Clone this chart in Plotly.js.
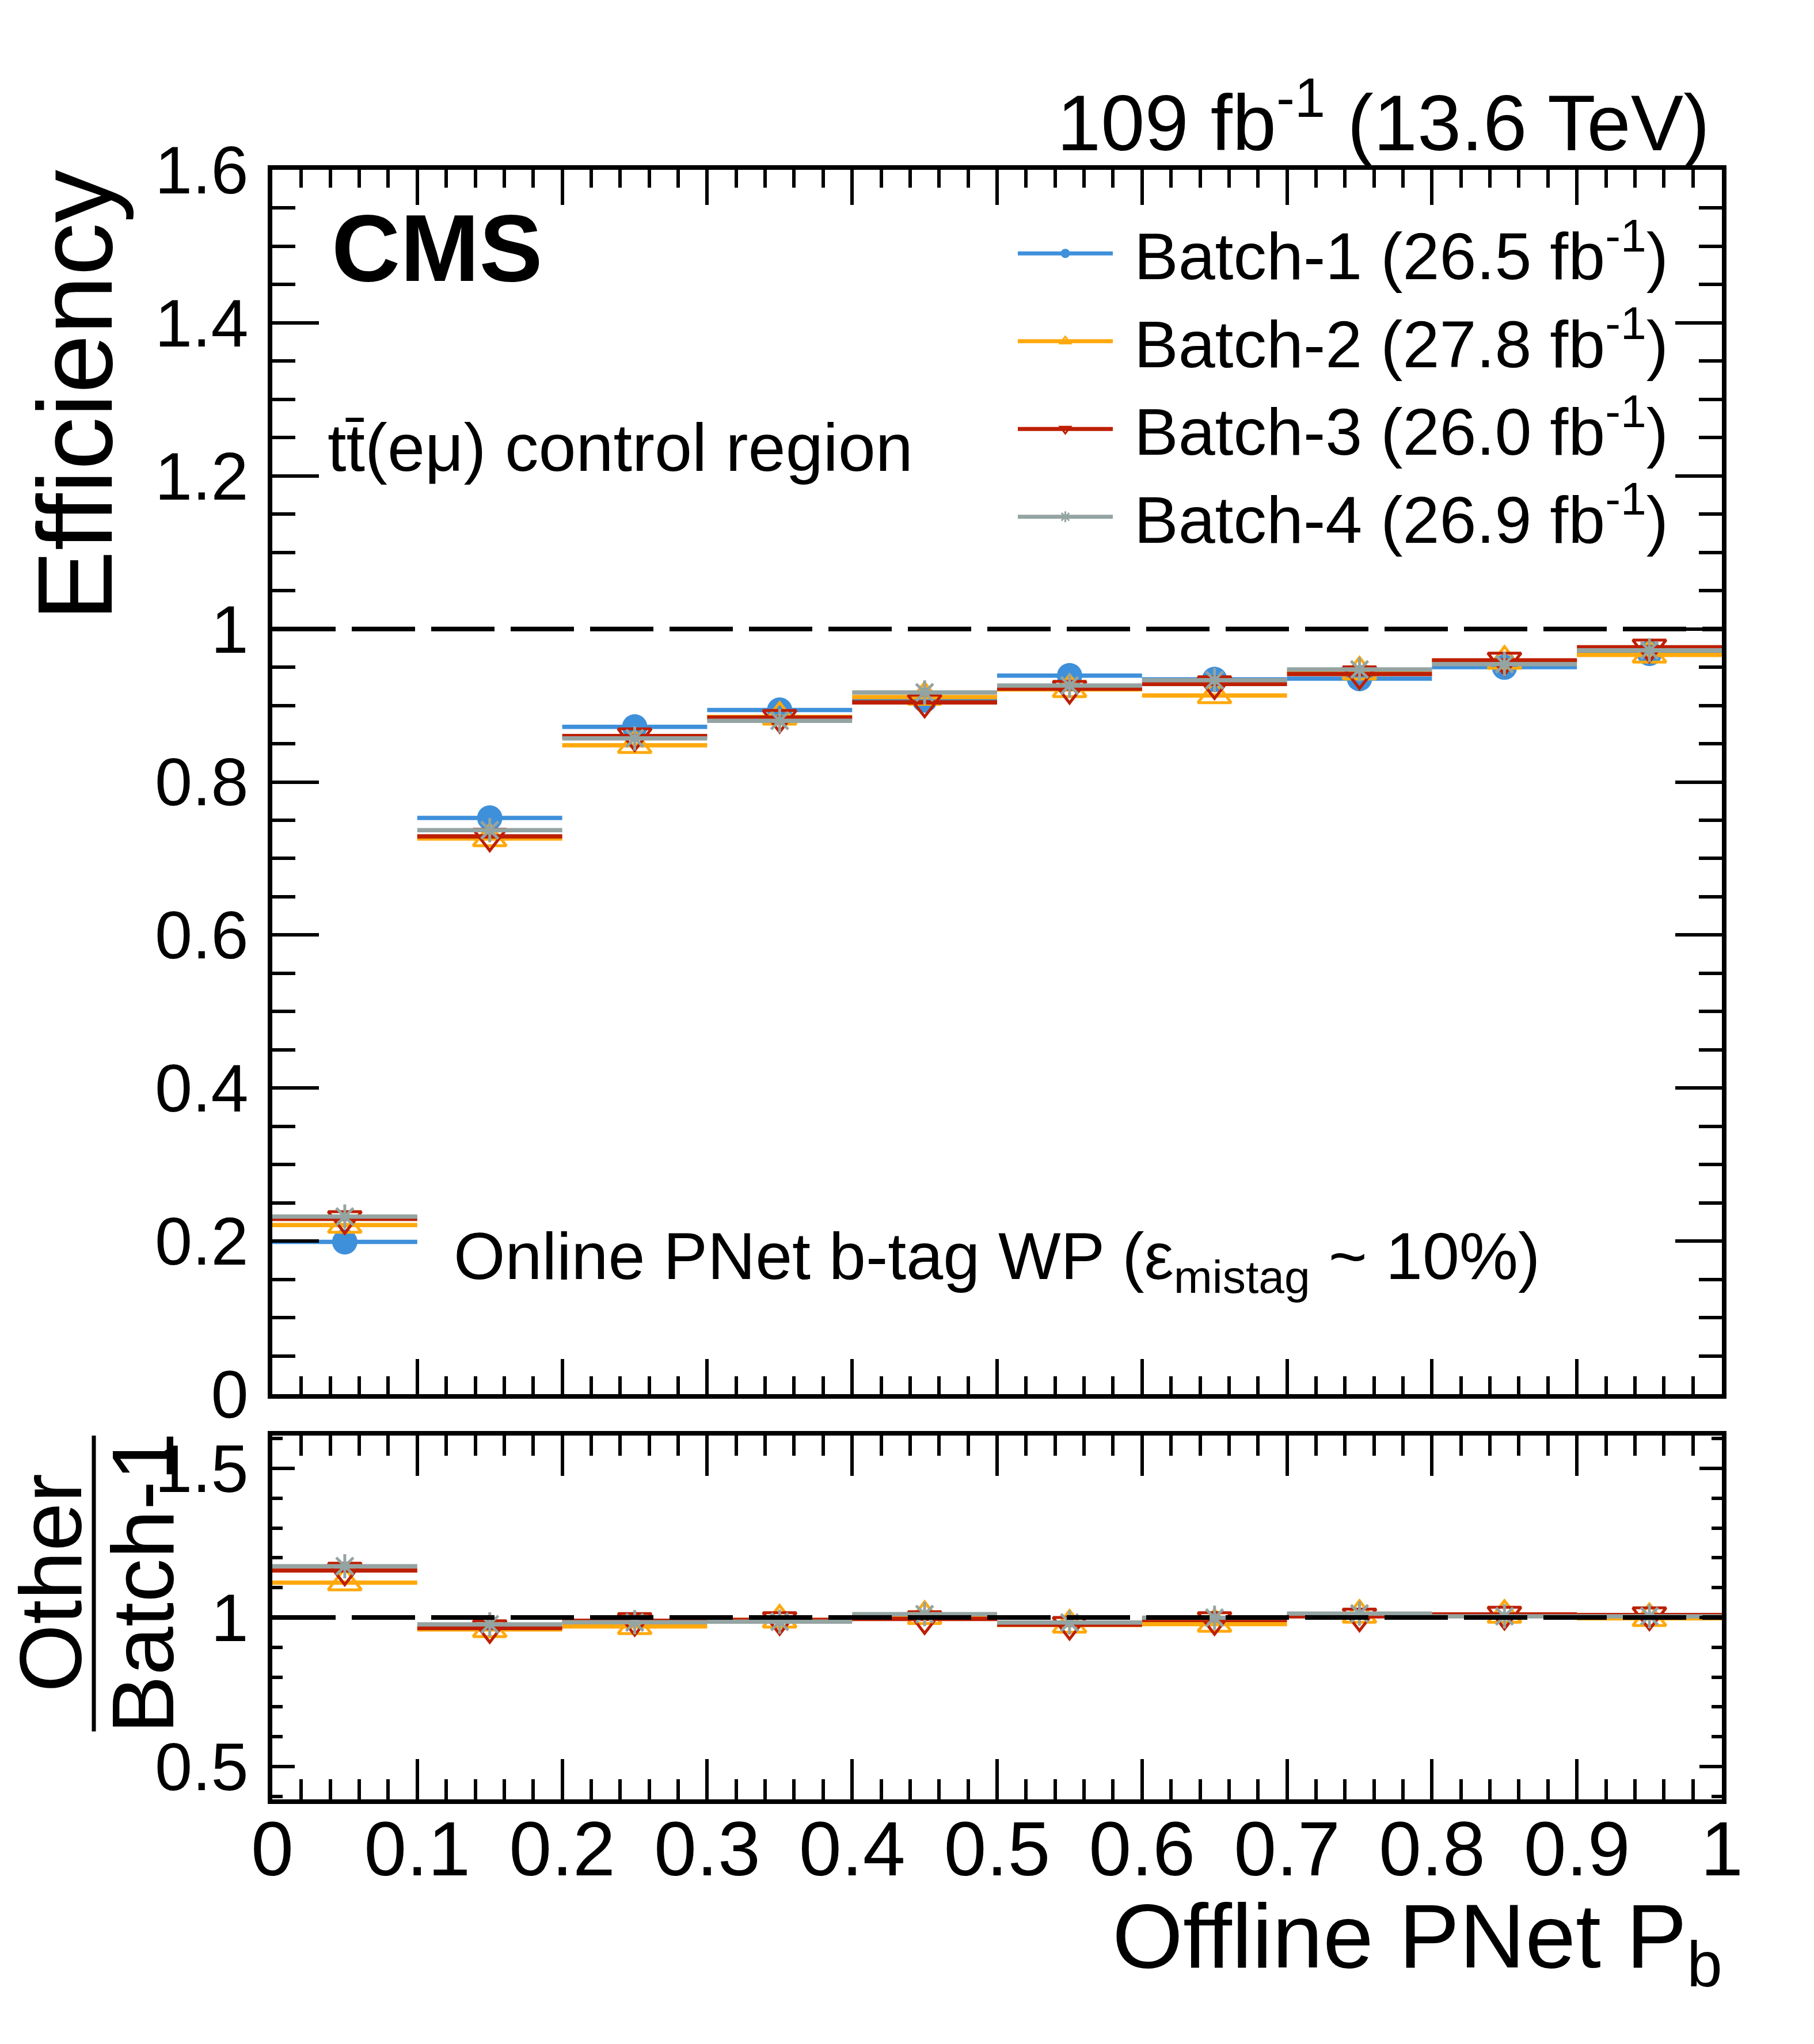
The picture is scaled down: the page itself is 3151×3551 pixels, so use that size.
<!DOCTYPE html>
<html>
<head>
<meta charset="utf-8">
<script src="https://cdn.plot.ly/plotly-3.0.1.min.js"></script>
<style>
  html, body { margin: 0; padding: 0; background: #ffffff; }
</style>
</head>
<body>
<div id="graph"></div>
<script>
// Constants
const GRAPH_ELEM_ID = "graph";
const FONT = "Liberation Sans, Arial, Helvetica, sans-serif";
const TICK_FONT = "Liberation Sans Narrow, Arial Narrow, Liberation Sans, sans-serif";

// Data: bins of offline PNet P_b (centre, half width)
const binCenters = [0.05, 0.15, 0.25, 0.35, 0.45, 0.55, 0.65, 0.75, 0.85, 0.95];
const binHalfWidth = 0.05;

// Efficiency per batch
const effBatch1 = [0.199, 0.753, 0.872, 0.894, 0.907, 0.939, 0.934, 0.935, 0.950, 0.968];
const effBatch2 = [0.221, 0.726, 0.848, 0.885, 0.911, 0.921, 0.913, 0.944, 0.958, 0.966];
const effBatch3 = [0.229, 0.729, 0.860, 0.884, 0.904, 0.922, 0.928, 0.941, 0.959, 0.976];
const effBatch4 = [0.232, 0.737, 0.857, 0.880, 0.917, 0.926, 0.933, 0.947, 0.954, 0.972];

// Ratio Other / Batch-1
const ratioBatch2 = [1.117, 0.960, 0.970, 0.992, 1.004, 0.975, 0.978, 1.008, 1.008, 0.997];
const ratioBatch3 = [1.158, 0.965, 0.989, 0.992, 0.995, 0.976, 0.992, 1.004, 1.010, 1.008];
const ratioBatch4 = [1.172, 0.977, 0.984, 0.986, 1.011, 0.983, 0.999, 1.013, 1.004, 1.004];

const batchNames = [
  "Batch-1 (26.5 fb<sup>-1</sup>)",
  "Batch-2 (27.8 fb<sup>-1</sup>)",
  "Batch-3 (26.0 fb<sup>-1</sup>)",
  "Batch-4 (26.9 fb<sup>-1</sup>)",
];

const unityLevel = 1;

// Styles
const colors = ["#3f90da", "#ffa90e", "#bd1f01", "#94a4a2"];
const symbols = ["circle", "triangle-up-open", "triangle-down-open", "asterisk-open"];
const sizes = [44, 50, 50, 35];

// Pixel geometry of the frame (page 3151 x 3551)
const W = 3151;
const H = 3551;
const FRAME_L = 473;
const FRAME_R = 2991;
const FRAME_T = 295;
const FRAME_B = 3126;
const TOP_BOTTOM = 2422;
const RATIO_TOP = 2494;

/**
 * Pixel x -> paper x
 */
function px(x) {
  return (x - FRAME_L) / (FRAME_R - FRAME_L);
}

/**
 * Pixel y -> paper y
 */
function py(y) {
  return (FRAME_B - y) / (FRAME_B - FRAME_T);
}

/**
 * Trace with horizontal bin bars and a marker at the bin centre
 */
function binTrace(values, idx, xaxis, yaxis) {
  return {
    x: binCenters,
    y: values,
    xaxis: xaxis,
    yaxis: yaxis,
    type: "scatter",
    mode: "markers",
    showlegend: false,
    hoverinfo: "skip",
    marker: {
      symbol: symbols[idx],
      size: sizes[idx],
      color: colors[idx],
      line: { color: colors[idx], width: idx === 0 ? 0 : 5 },
    },
    error_x: {
      type: "constant",
      value: binHalfWidth,
      thickness: 7.5,
      width: 0,
      color: colors[idx],
    },
  };
}

/**
 * Legend entry only (no data drawn)
 */
function legendTrace(idx) {
  return {
    x: [null],
    y: [null],
    xaxis: "x",
    yaxis: "y",
    type: "scatter",
    mode: "lines+markers",
    name: "\u00a0" + batchNames[idx],
    line: { color: colors[idx], width: 7 },
    marker: {
      symbol: symbols[idx],
      size: sizes[idx],
      color: colors[idx],
      line: { color: colors[idx], width: idx === 0 ? 0 : 3 },
    },
  };
}

const traces = [
  binTrace(effBatch1, 0, "x", "y"),
  binTrace(effBatch2, 1, "x", "y"),
  binTrace(effBatch3, 2, "x", "y"),
  binTrace(effBatch4, 3, "x", "y"),
  binTrace(ratioBatch2, 1, "x2", "y2"),
  binTrace(ratioBatch3, 2, "x2", "y2"),
  binTrace(ratioBatch4, 3, "x2", "y2"),
  legendTrace(0),
  legendTrace(1),
  legendTrace(2),
  legendTrace(3),
];

// Common axis style
function axisStyle(ticklen, minorLen) {
  return {
    ticks: "inside",
    ticklen: ticklen,
    tickwidth: 6,
    tickcolor: "black",
    showline: true,
    linewidth: 8,
    linecolor: "black",
    mirror: "ticks",
    showgrid: false,
    zeroline: false,
    fixedrange: true,
    minor: {
      ticks: "inside",
      ticklen: minorLen,
      tickwidth: 6,
      tickcolor: "black",
      showgrid: false,
    },
  };
}

const xTop = axisStyle(61, 31);
Object.assign(xTop, {
  domain: [0, 1],
  anchor: "y",
  range: [0, 1],
  tick0: 0,
  dtick: 0.1,
  showticklabels: false,
});
xTop.minor.dtick = 0.02;

const yTop = axisStyle(81, 40);
Object.assign(yTop, {
  domain: [(FRAME_B - TOP_BOTTOM) / (FRAME_B - FRAME_T), 1],
  anchor: "x",
  range: [0, 1.6],
  tick0: 0,
  dtick: 0.2,
  ticklabelstandoff: 10,
  tickfont: { size: 117, color: "black", family: TICK_FONT },
});
yTop.minor.dtick = 0.05;

const xRatio = axisStyle(70, 35);
Object.assign(xRatio, {
  domain: [0, 1],
  anchor: "y2",
  range: [0, 1],
  tick0: 0,
  dtick: 0.1,
  ticklabelstandoff: -36,
  tickfont: { size: 133, color: "black", family: TICK_FONT },
});
xRatio.minor.dtick = 0.02;

const yRatio = axisStyle(39, 18);
Object.assign(yRatio, {
  domain: [0, (FRAME_B - RATIO_TOP) / (FRAME_B - FRAME_T)],
  anchor: "x2",
  range: [0.39, 1.61],
  tick0: 0,
  dtick: 0.5,
  ticklabelstandoff: 10,
  tickfont: { size: 117, color: "black", family: TICK_FONT },
});
yRatio.minor.dtick = 0.1;

function note(text, x, y, xanchor, yanchor, size, angle) {
  return {
    text: text,
    xref: "paper",
    yref: "paper",
    x: px(x),
    y: py(y),
    xanchor: xanchor,
    yanchor: yanchor,
    showarrow: false,
    textangle: angle || 0,
    font: { size: size, color: "black", family: FONT },
  };
}

const annotations = [
  note("109 fb<sup>-1</sup> (13.6 TeV)", 2972, 292, "right", "bottom", 137),
  note("<b>CMS</b>", 574, 525, "left", "bottom", 165),
  note("tt\u0304(e\u03bc) control region", 567, 845, "left", "bottom", 117),
  note("Online PNet b-tag WP (\u03b5<sub>mistag</sub> ~ 10%)", 786, 2265, "left", "bottom", 115),
  note("Offline PNet P<sub>b</sub>", 2994, 3476, "right", "bottom", 158),
  note("Efficiency", 130, 293, "center", "top", 184, -90),
  note("Other", 88, 2750, "center", "middle", 152, -90),
  note("Batch-1", 248, 2750, "center", "middle", 152, -90),
];

const shapes = [
  {
    type: "line", xref: "x", yref: "y", x0: 0, x1: 1, y0: unityLevel, y1: unityLevel,
    line: { color: "black", width: 8, dash: "110px,28px" },
  },
  {
    type: "line", xref: "x2", yref: "y2", x0: 0, x1: 1, y0: unityLevel, y1: unityLevel,
    line: { color: "black", width: 8, dash: "110px,28px" },
  },
  // fraction bar of the ratio title
  {
    type: "line", xref: "paper", yref: "paper",
    x0: px(163), x1: px(163), y0: py(2494), y1: py(3008),
    line: { color: "black", width: 7 },
  },
];

const layout = {
  width: W,
  height: H,
  margin: { l: FRAME_L, r: W - FRAME_R, t: FRAME_T, b: H - FRAME_B, pad: 0 },
  paper_bgcolor: "white",
  plot_bgcolor: "white",
  font: { family: FONT, color: "black" },
  xaxis: xTop,
  yaxis: yTop,
  xaxis2: xRatio,
  yaxis2: yRatio,
  showlegend: true,
  legend: {
    x: px(1763),
    xanchor: "left",
    y: py(359),
    yanchor: "top",
    bgcolor: "rgba(0,0,0,0)",
    borderwidth: 0,
    itemwidth: 165,
    tracegroupgap: 0,
    font: { size: 115, color: "black", family: FONT },
  },
  annotations: annotations,
  shapes: shapes,
};

const config = {
  responsive: false,
  displayModeBar: false,
  staticPlot: true,
};

Plotly.newPlot(GRAPH_ELEM_ID, traces, layout, config);
</script>
</body>
</html>
